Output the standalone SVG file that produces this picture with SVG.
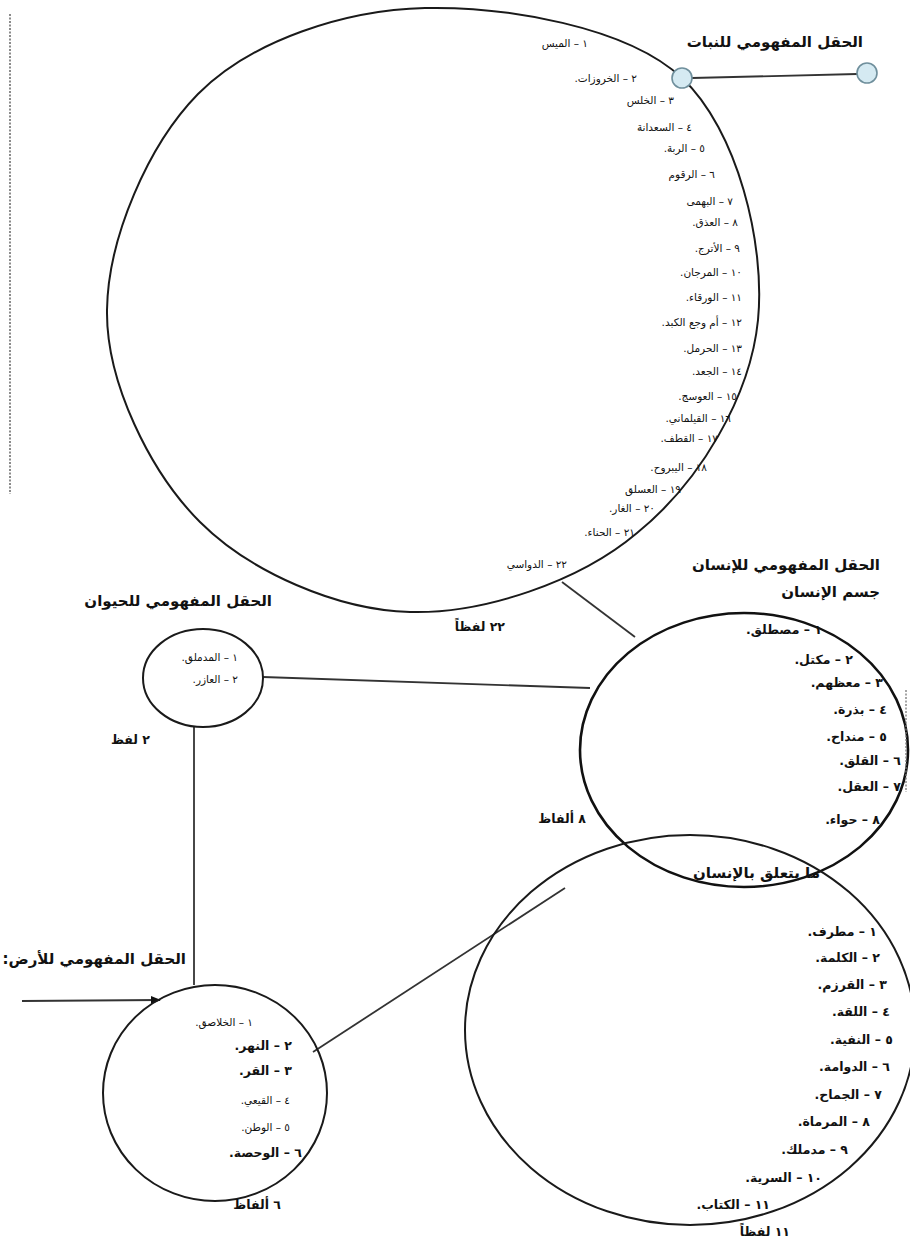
<svg xmlns="http://www.w3.org/2000/svg" width="910" height="1242" viewBox="0 0 910 1242">
<style>
text{font-family:"DejaVu Sans","Noto Sans",sans-serif;fill:#111;direction:rtl;text-anchor:start}
.s{font-size:10.5px}
.m{font-size:12.5px;font-weight:bold}
.t{font-size:15px;font-weight:bold}
.shape{fill:none;stroke:#1a1a1a;stroke-width:2}
.thick{fill:none;stroke:#111;stroke-width:2.6}
.ln{stroke:#333;stroke-width:1.8;fill:none}
</style>
<defs>
<marker id="arr" markerWidth="10" markerHeight="10" refX="9" refY="5" orient="auto" markerUnits="userSpaceOnUse">
<path d="M0,1 L10,5 L0,9 Z" fill="#111"/>
</marker>
</defs>
<rect width="910" height="1242" fill="#fff"/>
<line x1="10" y1="14" x2="10" y2="494" stroke="#666" stroke-width="1.5" stroke-dasharray="2 1.5"/>

<g id="connectors">
<line class="ln" x1="692" y1="78" x2="857" y2="74" stroke="#444"/>
<line class="ln" x1="562" y1="582" x2="635" y2="637"/>
<line class="ln" x1="263" y1="677" x2="590" y2="688"/>
<line class="ln" x1="194" y1="727" x2="194" y2="985"/>
<line class="ln" x1="313" y1="1052" x2="565" y2="888"/>
<line class="ln" x1="22" y1="1001" x2="160" y2="1000" stroke-width="2" marker-end="url(#arr)"/>
</g>

<g id="node-plant">
<path class="shape" d="M425,8 C504.5,6.3 626.5,26 682,78 C737.5,130 765.5,244 758,320 C750.5,396 700,482 637,533 C579,582 483,614 410,612 C337,610 250,572 200,522 C150,472 106,382 107,310 C108,238 148,145 198,94 C252,40 345,10 425,8 Z"/>
<circle cx="682" cy="78" r="10" fill="#d5eaf2" stroke="#6f8f9c" stroke-width="1.6"/>
<circle cx="867" cy="73" r="10" fill="#d5eaf2" stroke="#6f8f9c" stroke-width="1.6"/>
<text class="t" x="863" y="47">الحقل المفهومي للنبات</text>
<text class="s" x="588" y="47">١ – الميس</text>
<text class="s" x="637" y="82">٢ – الخروزات.</text>
<text class="s" x="674" y="104">٣ – الخلس</text>
<text class="s" x="692" y="131">٤ – السعدانة</text>
<text class="s" x="705" y="152">٥ – الربة.</text>
<text class="s" x="715" y="178">٦ – الرقوم</text>
<text class="s" x="733" y="205">٧ – البهمى</text>
<text class="s" x="738" y="226">٨ – العذق.</text>
<text class="s" x="740" y="252">٩ – الأترج.</text>
<text class="s" x="742" y="276">١٠ – المرجان.</text>
<text class="s" x="742" y="301">١١ – الورقاء.</text>
<text class="s" x="742" y="326">١٢ – أم وجع الكبد.</text>
<text class="s" x="742" y="352">١٣ – الحرمل.</text>
<text class="s" x="742" y="375">١٤ – الجعد.</text>
<text class="s" x="737" y="400">١٥ – العوسج.</text>
<text class="s" x="731" y="422">١٦ – القيلماني.</text>
<text class="s" x="718" y="442">١٧ – القطف.</text>
<text class="s" x="707" y="471">١٨ – اليبروح.</text>
<text class="s" x="681" y="493">١٩ – العسلق</text>
<text class="s" x="655" y="512">٢٠ – الغار.</text>
<text class="s" x="635" y="536">٢١ – الحناء.</text>
<text class="s" x="567" y="568">٢٢ – الدواسي</text>
<text class="m" x="505" y="631">٢٢ لفظاً</text>
</g>

<g id="node-human">
<ellipse class="thick" cx="744" cy="750" rx="164" ry="137"/>
<line x1="906" y1="690" x2="906" y2="792" stroke="#777" stroke-width="1.3" stroke-dasharray="2 1.5"/>
<text class="t" x="880" y="570">الحقل المفهومي للإنسان</text>
<text class="t" x="880" y="597">جسم الإنسان</text>
<text class="m" x="822" y="634">١ – مصطلق.</text>
<text class="m" x="853" y="664">٢ – مكتل.</text>
<text class="m" x="883" y="687">٣ – معظهم.</text>
<text class="m" x="887" y="714">٤ – بذرة.</text>
<text class="m" x="887" y="741">٥ – منداح.</text>
<text class="m" x="901" y="765">٦ – القلق.</text>
<text class="m" x="901" y="791">٧ – العقل.</text>
<text class="m" x="880" y="824">٨ – حواء.</text>
<text class="m" x="586" y="823">٨ ألفاظ</text>
</g>

<g id="node-animal">
<ellipse class="shape" cx="203" cy="678" rx="60" ry="49"/>
<text class="t" x="272" y="606">الحقل المفهومي للحيوان</text>
<text class="s" x="238" y="661">١ – المدملق.</text>
<text class="s" x="238" y="683">٢ – العازر.</text>
<text class="m" x="150" y="744">٢ لفظ</text>
</g>

<g id="node-earth">
<ellipse class="shape" cx="215" cy="1093" rx="112" ry="108"/>
<text class="t" x="186" y="964">الحقل المفهومي للأرض:</text>
<text class="s" x="253" y="1026">١ – الخلاصق.</text>
<text class="m" x="292" y="1050">٢ – النهر.</text>
<text class="m" x="292" y="1075">٣ – القر.</text>
<text class="s" x="290" y="1104">٤ – القيعي.</text>
<text class="s" x="290" y="1131">٥ – الوطن.</text>
<text class="m" x="302" y="1157">٦ – الوحصة.</text>
<text class="m" x="281" y="1209">٦ ألفاظ</text>
</g>

<g id="node-related">
<ellipse class="shape" cx="690" cy="1030" rx="225" ry="195"/>
<text class="t" x="820" y="878">ما يتعلق بالإنسان</text>
<text class="m" x="877" y="936">١ – مطرف.</text>
<text class="m" x="880" y="962">٢ – الكلمة.</text>
<text class="m" x="887" y="989">٣ – القرزم.</text>
<text class="m" x="890" y="1016">٤ – اللقة.</text>
<text class="m" x="893" y="1044">٥ – النفية.</text>
<text class="m" x="890" y="1071">٦ – الدوامة.</text>
<text class="m" x="882" y="1099">٧ – الجماح.</text>
<text class="m" x="870" y="1126">٨ – المرماة.</text>
<text class="m" x="848" y="1154">٩ – مدملك.</text>
<text class="m" x="822" y="1182">١٠ – السرية.</text>
<text class="m" x="770" y="1209">١١ – الكتاب.</text>
<text class="m" x="790" y="1236">١١ لفظاً</text>
</g>
</svg>
